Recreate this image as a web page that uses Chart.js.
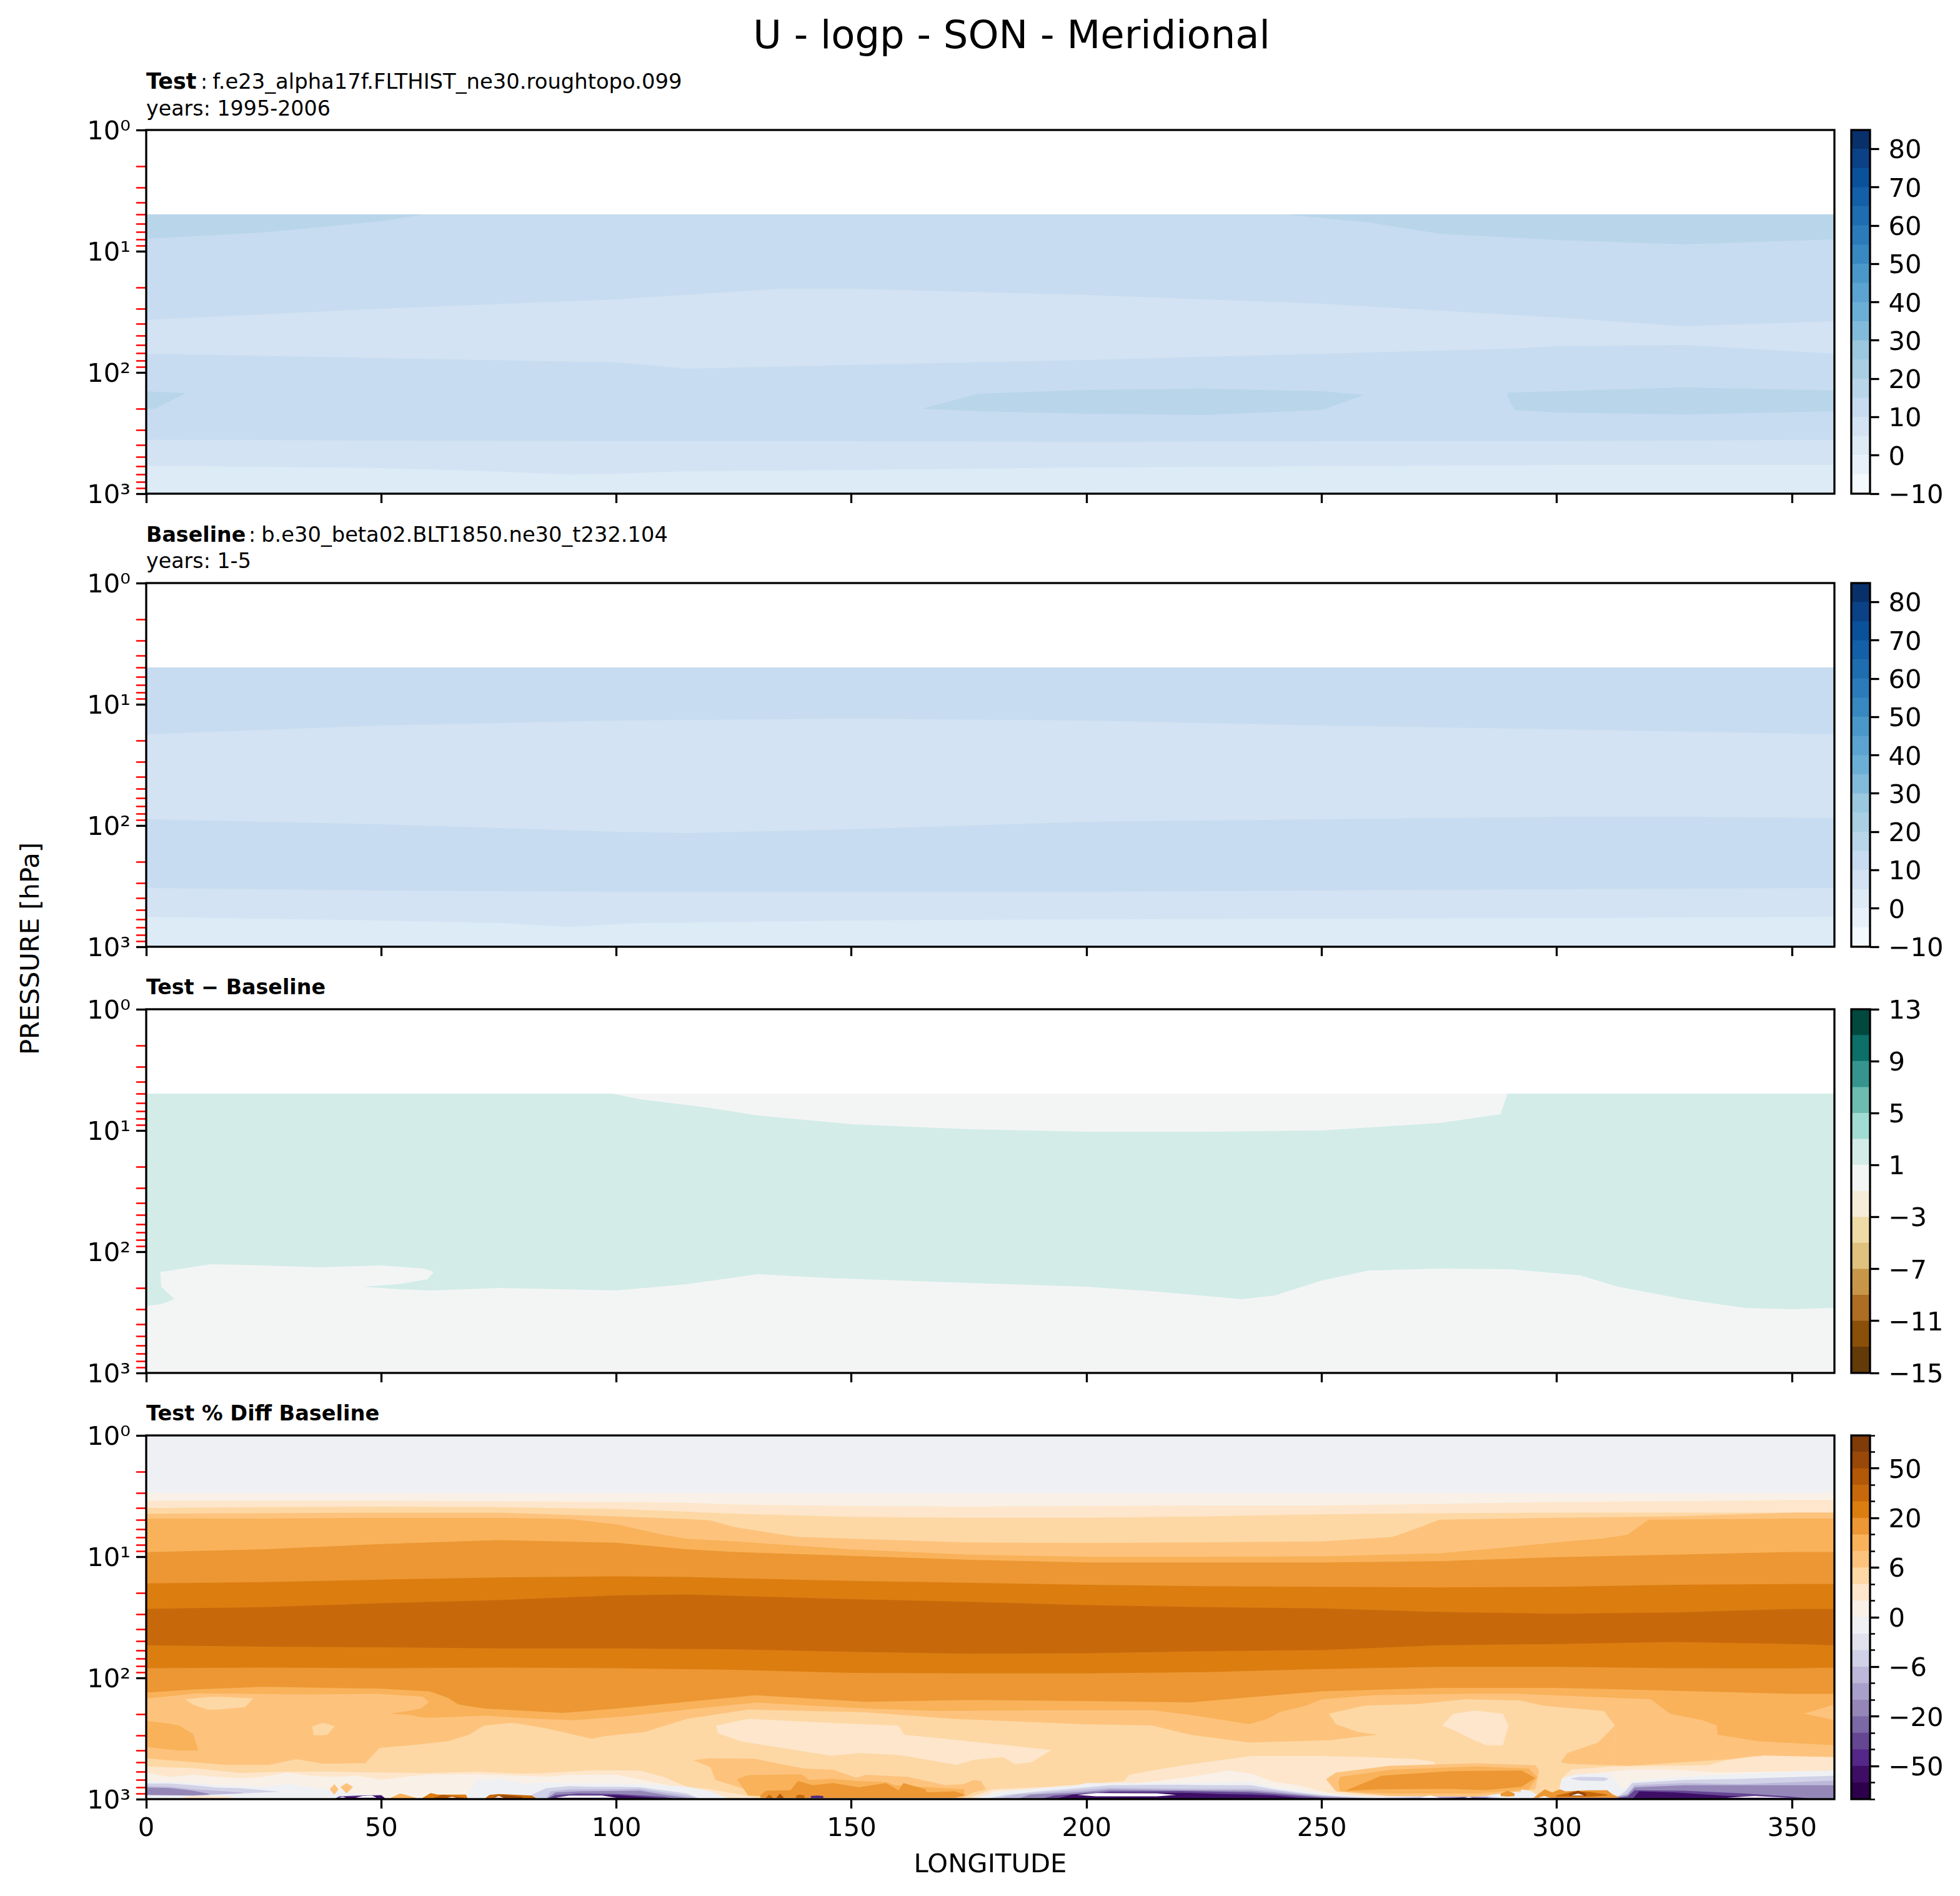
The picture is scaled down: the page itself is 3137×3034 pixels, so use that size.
<!DOCTYPE html>
<html>
<head>
<meta charset="utf-8">
<title>U - logp - SON - Meridional</title>
<script src="https://cdn.jsdelivr.net/npm/chart.js@4"></script>
<style>
    html, body { margin: 0; background: #fff; }
    body { position: relative; width: 3137px; height: 3034px; overflow: hidden; font-family: "DejaVu Sans"; color: #000; }
    canvas { position: absolute; left: 0; }
    .txt { position: absolute; white-space: nowrap; line-height: 40px; font-size: 33.3px; left: 234px; }
    .txt b.head { display: inline-block; }
</style>
</head>
<body>
<div class="txt" style="left:1619px;top:26px;line-height:60px;font-size:62.4px;transform:translateX(-50%)">U - logp - SON - Meridional</div>
<div class="txt" style="top:110px"><b class="head" style="width:87px;font-size:35px">Test</b>:<span style="margin-left:8px;font-size:33.8px">f.e23_alpha17f.FLTHIST_ne30.roughtopo.099</span></div>
<div class="txt" style="top:154px">years: 1995-2006</div>
<div class="txt" style="top:836px"><b class="head" style="width:164px">Baseline</b>:<span style="margin-left:9px;font-size:33.7px">b.e30_beta02.BLT1850.ne30_t232.104</span></div>
<div class="txt" style="top:878px">years: 1-5</div>
<div class="txt" style="top:1560px"><b>Test − Baseline</b></div>
<div class="txt" style="top:2242px;font-size:33.6px"><b>Test % Diff Baseline</b></div>
<div class="txt" style="left:48px;top:1518px;font-size:41.7px;transform:translate(-50%,-50%) rotate(-90deg)">PRESSURE [hPa]</div>

<script>
// contour lines are kept as longitude + log10(pressure in hPa)
const xTickValues = [0, 50, 100, 150, 200, 250, 300, 350];
const yTickValues = [1, 2, 3, 4, 5, 6, 7, 8, 9, 10, 20, 30, 40, 50, 60, 70, 80, 90, 100, 200, 300, 400, 500, 600, 700, 800, 900, 1000];
const yDecadeLabels = {1: '10⁰', 10: '10¹', 100: '10²', 1000: '10³'};

// colorbar levels
const uLevels = [-10, -5, 0, 5, 10, 15, 20, 25, 30, 35, 40, 45, 50, 55, 60, 65, 70, 75, 80, 85];
const uTicks = [-10, 0, 10, 20, 30, 40, 50, 60, 70, 80];
const uColors = ['#f4f9fe', '#e8f1fa', '#dcebf6', '#d3e3f3', '#c7dcf0', '#b9d5e9', '#a9cfe3', '#9ac8df', '#82badb', '#6bafd7', '#5ba3d1', '#4a98c9', '#3888c1', '#2b7bba', '#1f6db1', '#1460a8', '#0a519b', '#0b4287', '#08306b'];
const diffLevels = [-15, -13, -11, -9, -7, -5, -3, -1, 1, 3, 5, 7, 9, 11, 13];
const diffTicks = [-15, -11, -7, -3, 1, 5, 9, 13];
const diffColors = ['#643a08', '#8a5009', '#ad6d22', '#c89648', '#dfc27d', '#eedba6', '#f6ecd8', '#f3f5f4', '#d3ece8', '#a1dcd2', '#6dbcb1', '#35958e', '#0c6f68', '#01493f'];
const pctLevels = [-100, -75, -50, -40, -30, -20, -15, -10, -6, -4, -2, 0, 2, 4, 6, 10, 15, 20, 30, 40, 50, 75, 100];
const pctTicks = [-50, -20, -6, 0, 6, 20, 50];
const pctColors = ['#2d004b', '#3e0e66', '#542788', '#654693', '#7b68a6', '#9487b8', '#a99fcc', '#bdb8d9', '#d1d2e7', '#e2e2ee', '#eef0f4', '#f9f1e8', '#fde6cb', '#fdd8a5', '#fdc37d', '#f9b25a', '#ec9733', '#dc7d10', '#c7690b', '#b35806', '#994808', '#7f3b08'];

// panel 1: Test
const testTopLon = [0, 359];
const testTopExp = [0.696, 0.696];
const testALon = [0, 25, 50, 59, 242, 260, 275, 300, 327, 359];
const testAExp = [0.897, 0.845, 0.753, 0.696, 0.696, 0.763, 0.856, 0.907, 0.943, 0.902];
const testBLon = [0, 50, 100, 135, 150, 200, 250, 300, 327, 359];
const testBExp = [1.567, 1.474, 1.397, 1.309, 1.309, 1.361, 1.433, 1.546, 1.619, 1.577];
const testCLon = [0, 50, 100, 115, 150, 200, 250, 290, 300, 327, 359];
const testCExp = [1.845, 1.881, 1.918, 1.969, 1.938, 1.897, 1.845, 1.804, 1.784, 1.773, 1.845];
const testELon = [0, 50, 100, 150, 200, 250, 300, 359];
const testEExp = [2.554, 2.562, 2.567, 2.567, 2.572, 2.567, 2.567, 2.555];
const testFLon = [0, 25, 50, 70, 90, 100, 115, 150, 200, 250, 300, 359];
const testFExp = [2.769, 2.778, 2.789, 2.81, 2.842, 2.835, 2.814, 2.804, 2.784, 2.773, 2.763, 2.763];
const testIslands = [
    [[0, 2, 8.4], [2.155, 2.16, 2.17], [2.299, 2.299, 2.17]],
    [[165, 177, 200, 225, 250, 259], [2.299, 2.175, 2.144, 2.134, 2.155, 2.186], [2.299, 2.32, 2.34, 2.351, 2.309, 2.186]],
    [[289.5, 291, 300, 327, 359], [2.165, 2.165, 2.155, 2.124, 2.148], [2.2, 2.31, 2.33, 2.347, 2.32]],
];

// panel 2: Baseline
const baseALon = [0, 50, 100, 150, 200, 250, 300, 359];
const baseAExp = [1.247, 1.175, 1.134, 1.119, 1.134, 1.175, 1.206, 1.247];
const baseBLon = [0, 50, 100, 115, 150, 200, 250, 300, 330, 359];
const baseBExp = [1.948, 1.99, 2.052, 2.062, 2.031, 1.969, 1.948, 1.928, 1.928, 1.938];
const baseCLon = [0, 50, 100, 150, 200, 250, 300, 359];
const baseCExp = [2.515, 2.536, 2.546, 2.546, 2.546, 2.536, 2.526, 2.515];
const baseDLon = [0, 50, 75, 90, 105, 150, 200, 300, 359];
const baseDExp = [2.753, 2.784, 2.804, 2.835, 2.804, 2.784, 2.773, 2.763, 2.753];

// panel 3: Test - Baseline
const diffMainLon = [0, 3.5, 13.7, 25, 36.7, 50, 59, 61, 61.2, 75, 100, 115, 130, 145, 160, 175, 200, 215, 233, 240, 250, 260, 275, 290, 305, 313, 327, 340, 350, 359];
const diffMainExp = [2.165, 2.165, 2.103, 2.113, 2.129, 2.113, 2.139, 2.165, 2.32, 2.299, 2.32, 2.268, 2.186, 2.216, 2.237, 2.258, 2.289, 2.33, 2.392, 2.361, 2.237, 2.155, 2.139, 2.144, 2.196, 2.289, 2.392, 2.464, 2.474, 2.464];
const diffIslands = [
    [7, [99, 105, 120, 130, 150, 175, 200, 225, 250, 275, 288, 289.5], [0.696, 0.696, 0.696, 0.696, 0.696, 0.696, 0.696, 0.696, 0.696, 0.696, 0.696, 0.696], [0.696, 0.742, 0.814, 0.876, 0.948, 0.99, 1.01, 1.01, 1.0, 0.938, 0.866, 0.696]],
    [8, [0, 3, 3.2, 6], [2.144, 2.165, 2.289, 2.392], [2.448, 2.433, 2.433, 2.392]],
    [8, [46, 53.6, 59.8, 61.2], [2.289, 2.268, 2.227, 2.165], [2.289, 2.309, 2.32, 2.32]],
];

// panel 4: Test % Diff Baseline, top to bottom
const pctULon = [0, 25, 50, 75, 100, 115, 125, 150, 175, 200, 225, 250, 275, 300, 325, 350, 359];
const pctMLon = [0, 25, 50, 75, 100, 125, 150, 175, 200, 225, 250, 275, 300, 325, 350, 359];
const pct01Lon = [0, 359];
const pct00Exp = [0, 0];
const pct01Exp = [0.473, 0.473];
const pct02Lon = [0, 50, 100, 115, 125, 150, 175, 200, 225, 250, 275, 300, 325, 350, 359];
const pct02Exp = [0.538, 0.538, 0.549, 0.555, 0.57, 0.581, 0.586, 0.581, 0.577, 0.577, 0.564, 0.549, 0.542, 0.534, 0.534];
const pct03Exp = [0.599, 0.592, 0.588, 0.592, 0.607, 0.629, 0.646, 0.672, 0.679, 0.679, 0.668, 0.651, 0.642, 0.636, 0.636, 0.636, 0.636];
const pct04Lon = [0, 50, 75, 100, 115, 120, 125, 138, 150, 175, 200, 225, 250, 265, 271, 275, 300, 325, 350, 359];
const pct04Exp = [0.646, 0.636, 0.636, 0.668, 0.69, 0.701, 0.755, 0.835, 0.852, 0.883, 0.887, 0.881, 0.874, 0.837, 0.755, 0.694, 0.679, 0.668, 0.636, 0.636];
const pct05Lon = [0, 25, 50, 75, 90, 100, 110, 115, 125, 150, 175, 200, 225, 250, 275, 288, 300, 310, 315, 319.5, 350, 359];
const pct05Exp = [0.685, 0.685, 0.679, 0.679, 0.69, 0.733, 0.82, 0.852, 0.874, 0.939, 0.983, 1.0, 1.0, 0.998, 0.972, 0.928, 0.881, 0.848, 0.82, 0.694, 0.685, 0.685];
const pct06Exp = [0.963, 0.939, 0.896, 0.863, 0.885, 0.939, 0.961, 0.993, 1.026, 1.048, 1.048, 1.048, 1.037, 1.004, 0.983, 0.961, 0.961];
const pct07Exp = [1.221, 1.21, 1.189, 1.171, 1.163, 1.167, 1.178, 1.2, 1.215, 1.232, 1.243, 1.249, 1.254, 1.249, 1.232, 1.226, 1.226];
const pct08Exp = [1.43, 1.416, 1.384, 1.358, 1.319, 1.312, 1.323, 1.351, 1.373, 1.399, 1.416, 1.427, 1.456, 1.471, 1.46, 1.432, 1.432];
const pct09Exp = [1.731, 1.742, 1.748, 1.757, 1.757, 1.764, 1.785, 1.8, 1.796, 1.779, 1.77, 1.731, 1.72, 1.703, 1.72, 1.731];
const pct10Exp = [1.92, 1.915, 1.92, 1.915, 1.92, 1.933, 1.959, 1.963, 1.963, 1.952, 1.926, 1.909, 1.909, 1.92, 1.922, 1.915];
const pct11Lon = [0, 10, 25, 50, 60.3, 64.2, 66.4, 71.8, 88.6, 100, 115, 129.6, 153, 175, 200, 222, 235, 250, 275, 300, 320, 350, 359];
const pct11Exp = [2.121, 2.095, 2.074, 2.089, 2.111, 2.165, 2.219, 2.252, 2.289, 2.252, 2.197, 2.143, 2.197, 2.182, 2.191, 2.202, 2.158, 2.111, 2.082, 2.082, 2.1, 2.132, 2.132];
const pct12Lon = [0, 10.8, 33.6, 49, 58.8, 60, 60.2, 72, 83, 91, 102, 115, 129.6, 153, 168, 191, 214, 222, 234.6, 238.5, 241, 246.6, 250, 261, 280.5, 291.7, 320, 324, 331, 334, 334.1, 343, 359];
const pct12Exp = [2.171, 2.128, 2.137, 2.132, 2.154, 2.197, 2.328, 2.312, 2.338, 2.349, 2.317, 2.262, 2.204, 2.252, 2.273, 2.267, 2.267, 2.306, 2.382, 2.338, 2.284, 2.23, 2.176, 2.143, 2.132, 2.132, 2.176, 2.295, 2.349, 2.393, 2.469, 2.523, 2.555];
const pct13Lon = [0, 17, 26, 32, 37.5, 46.6, 49.6, 56.5, 64, 68.7, 71.8, 78, 84.7, 94.7, 97.7, 106, 115, 128, 153, 171.5, 199, 214, 222, 234.6, 250, 251.4, 251.5, 259, 270.6, 280.5, 292.3, 297, 310, 312.3, 312.4, 315, 337, 342, 359];
const pct13Exp = [2.664, 2.718, 2.718, 2.67, 2.707, 2.703, 2.577, 2.555, 2.523, 2.469, 2.393, 2.371, 2.414, 2.501, 2.479, 2.447, 2.338, 2.262, 2.284, 2.338, 2.382, 2.393, 2.469, 2.534, 2.516, 2.516, 2.295, 2.23, 2.215, 2.176, 2.187, 2.23, 2.273, 2.393, 2.72, 2.725, 2.67, 2.644, 2.653];
const pct14Lon = [0, 5, 10, 15, 20, 25, 30, 40, 50, 60, 70, 80, 85, 90, 95, 105, 110, 115, 120, 125, 130, 175, 180, 190, 200, 208, 209, 215, 222, 230, 235, 250, 260, 270, 274, 274.5, 300, 301, 303, 312, 332, 336, 344, 359];
const pct14Exp = [2.73, 2.738, 2.744, 2.764, 2.785, 2.778, 2.773, 2.773, 2.781, 2.785, 2.773, 2.79, 2.785, 2.773, 2.761, 2.764, 2.816, 2.898, 2.919, 2.953, 2.988, 2.988, 2.919, 2.902, 2.876, 2.85, 2.799, 2.756, 2.713, 2.67, 2.644, 2.644, 2.653, 2.67, 2.692, 3, 3, 2.833, 2.756, 2.73, 2.721, 2.678, 2.641, 2.653];
const pct15Lon = [0, 5, 10, 15, 20, 25, 30, 35, 40, 45, 50, 55, 60, 70, 80, 85, 90, 100, 110, 115, 120, 125, 178, 180, 190, 200, 208, 215, 222, 230, 235, 240, 245, 250, 255, 262, 265, 300, 302, 305, 315, 325, 335, 345, 359];
const pct15Exp = [2.781, 2.816, 2.799, 2.816, 2.829, 2.816, 2.781, 2.807, 2.816, 2.807, 2.842, 2.816, 2.799, 2.795, 2.807, 2.816, 2.799, 2.799, 2.876, 2.936, 2.97, 3, 3, 2.936, 2.915, 2.885, 2.876, 2.85, 2.816, 2.764, 2.79, 2.859, 2.885, 2.936, 2.97, 2.988, 3, 3, 2.867, 2.799, 2.756, 2.756, 2.781, 2.773, 2.764];
const pct16Lon = [0, 5, 10, 15, 20, 25, 30, 35, 40, 45, 50, 52, 66, 68, 70, 75, 80, 85, 90, 100, 110, 115, 120, 124, 176, 178, 183, 190, 198, 200, 220, 235, 240, 245, 250, 260, 285, 288, 292, 295, 298, 300, 301, 304, 311, 312.5, 314, 315, 316, 325, 340, 350, 359];
const pct16Exp = [2.85, 2.854, 2.867, 2.885, 2.893, 2.898, 2.876, 2.902, 2.927, 2.953, 2.988, 3, 3, 2.988, 2.847, 2.833, 2.871, 2.864, 2.867, 2.872, 2.885, 2.898, 2.936, 3, 3, 2.97, 2.933, 2.91, 2.885, 2.867, 2.867, 2.859, 2.902, 2.927, 2.953, 2.979, 2.979, 2.936, 2.945, 2.97, 2.988, 3, 2.833, 2.795, 2.785, 2.85, 2.919, 2.893, 2.85, 2.819, 2.79, 2.773, 2.764];
const pct17Lon = [0, 5, 10, 15, 20, 25, 30, 35, 80, 85, 90, 95, 100, 105, 110, 115, 118, 178, 183, 190, 198, 205, 220, 225, 235, 240, 245, 250, 255, 262, 270, 280, 285, 288, 290, 294, 296, 300, 305, 313, 314.5, 316, 327, 339, 359];
const pct17Exp = [2.871, 2.871, 2.885, 2.905, 2.91, 2.927, 2.945, 3, 3, 2.91, 2.893, 2.898, 2.898, 2.902, 2.927, 2.953, 3, 3, 2.962, 2.936, 2.91, 2.885, 2.881, 2.885, 2.885, 2.919, 2.945, 2.967, 2.979, 2.988, 2.977, 2.97, 2.974, 2.988, 3, 3, 2.979, 2.967, 2.974, 2.974, 2.936, 2.867, 2.842, 2.833, 2.807];
const pct18Lon = [0, 5, 10, 15, 20, 25, 85, 86, 90, 100, 105, 110, 115, 118, 180, 185, 190, 198, 205, 220, 235, 240, 245, 250, 258, 262, 268, 275, 285, 288, 294, 296, 300, 305, 313, 315, 316.5, 327, 339, 359];
const pct18Exp = [2.893, 2.898, 2.919, 2.931, 2.945, 3, 3, 2.936, 2.919, 2.919, 2.915, 2.945, 2.97, 3, 3, 2.962, 2.948, 2.927, 2.907, 2.915, 2.915, 2.931, 2.953, 2.97, 2.988, 3, 2.988, 2.979, 2.979, 3, 3, 2.988, 2.974, 2.979, 2.979, 2.953, 2.885, 2.867, 2.876, 2.847];
const pct19Lon = [0, 5, 10, 13, 15, 85, 87, 92, 105, 110, 115, 118, 185, 188, 198, 205, 220, 235, 240, 250, 262, 270, 280, 285, 287, 296, 298, 300, 313, 315, 316.5, 327, 345, 359];
const pct19Exp = [2.905, 2.909, 2.931, 2.953, 3, 3, 2.945, 2.936, 2.931, 2.962, 2.988, 3, 3, 2.962, 2.945, 2.922, 2.927, 2.931, 2.945, 2.979, 3, 2.993, 2.981, 2.984, 3, 3, 2.988, 2.981, 2.981, 2.967, 2.902, 2.885, 2.885, 2.885];
const pct20Lon = [0, 40, 41, 45, 50, 51, 85, 87, 92, 100, 110, 113, 190, 193, 198, 205, 220, 235, 240, 250, 255, 275, 280, 285, 286, 298, 300, 305, 312, 315, 316.5, 327, 340, 350, 355, 359];
const pct20Exp = [3, 3, 2.977, 2.97, 2.967, 3, 3, 2.967, 2.953, 2.957, 2.979, 3, 3, 2.97, 2.957, 2.936, 2.933, 2.945, 2.957, 2.988, 3, 3, 2.984, 2.991, 3, 3, 2.988, 2.994, 2.994, 2.979, 2.927, 2.931, 2.953, 2.979, 3, 3];
const pct21Lon = [0, 40, 42, 47, 50, 51, 85, 90, 100, 108, 110, 193, 197, 205, 222, 228, 235, 240, 248, 275, 279, 282, 299, 301, 303, 316, 317.5, 325, 335, 345, 352, 359];
const pct21Exp = [3, 3, 2.981, 2.974, 2.97, 3, 3, 2.97, 2.967, 2.988, 3, 3, 2.962, 2.945, 2.948, 2.957, 2.962, 2.97, 3, 3, 2.991, 3, 3, 2.993, 3, 3, 2.936, 2.945, 2.97, 2.988, 3, 3];

// closed patches: band index, longitudes, upper edge, lower edge
const pctFolds = [
    [15, [51.9, 56, 58.4, 60.2], [2.295, 2.27, 2.252, 2.197], [2.295, 2.306, 2.323, 2.328]],
    [15, [0, 4, 7, 10, 11.1], [2.356, 2.371, 2.393, 2.464, 2.599], [2.57, 2.587, 2.599, 2.599, 2.599]],
    [13, [8.3, 10, 13, 15, 21, 22.8], [2.176, 2.17, 2.158, 2.154, 2.165, 2.169], [2.176, 2.221, 2.262, 2.262, 2.241, 2.169]],
    [13, [35.3, 35.6, 37.4, 38.5, 40.1], [2.399, 2.397, 2.371, 2.38, 2.399], [2.399, 2.473, 2.473, 2.469, 2.399]],
    [14, [352.6, 359], [2.295, 2.219], [2.295, 2.349]],
    [12, [121.2, 121.6, 126.5, 128, 145.6, 151.7, 160, 161.2, 172.3, 176, 182.2, 184.8, 188.3, 192.5], [2.393, 2.39, 2.349, 2.338, 2.371, 2.382, 2.393, 2.469, 2.512, 2.527, 2.551, 2.562, 2.577, 2.594], [2.393, 2.458, 2.523, 2.534, 2.642, 2.62, 2.636, 2.642, 2.718, 2.675, 2.653, 2.711, 2.696, 2.594]],
    [12, [275.6, 278, 282.5, 285, 288.5, 289.7], [2.393, 2.295, 2.269, 2.28, 2.295, 2.393], [2.393, 2.43, 2.516, 2.555, 2.555, 2.393]],
    [14, [251.5, 253, 257.8, 262], [2.295, 2.382, 2.447, 2.469], [2.516, 2.508, 2.486, 2.469]],
    [14, [300.8, 302.2, 308.7, 312.3, 312.4, 315], [2.696, 2.62, 2.534, 2.393, 2.72, 2.725], [2.696, 2.707, 2.718, 2.72, 2.72, 2.725]],
];
const pctNearSurface = [
    [14, [116.5, 120, 121, 129.5, 134, 140, 146, 151, 153, 162, 170, 173.7, 176, 177.5, 178.6], [2.678, 2.661, 2.664, 2.666, 2.704, 2.747, 2.756, 2.824, 2.799, 2.816, 2.885, 2.876, 2.842, 2.85, 2.919], [2.682, 2.738, 2.842, 2.945, 2.988, 2.988, 2.988, 2.988, 2.988, 2.988, 2.988, 2.988, 2.945, 2.931, 2.919]],
    [15, [125.7, 128, 139.4, 141, 146, 151, 157.4, 159.2, 174], [2.833, 2.802, 2.795, 2.842, 2.833, 2.85, 2.859, 2.885, 2.919], [2.842, 2.97, 2.988, 2.988, 2.988, 2.988, 2.988, 2.988, 2.962]],
    [16, [130.6, 131.8, 137, 138.6, 141.7, 146, 151.6, 157.3, 160, 161, 165.7, 166, 172, 174], [2.97, 2.931, 2.927, 2.85, 2.885, 2.867, 2.902, 2.867, 2.927, 2.867, 2.919, 2.945, 2.936, 2.962], [2.988, 2.988, 2.988, 2.988, 2.988, 2.988, 2.988, 2.988, 2.988, 2.988, 2.988, 2.988, 2.988, 2.97]],
    [18, [131.8, 132.5, 133.3], [2.988, 2.962, 2.988], [2.99, 2.99, 2.99]],
    [19, [134, 134.8, 135.6], [2.988, 2.953, 2.988], [2.99, 2.99, 2.99]],
    [18, [138.2, 139, 140], [2.97, 2.962, 2.97], [2.99, 2.99, 2.99]],
    [2, [141.3, 142.6, 144], [2.974, 2.97, 2.974], [2.99, 2.99, 2.99]],
    [14, [39, 40, 40.9], [2.919, 2.876, 2.919], [2.919, 2.962, 2.919]],
    [14, [41.3, 42.6, 44], [2.9, 2.867, 2.9], [2.9, 2.953, 2.9]],
    [10, [0, 10, 20, 30, 36], [2.967, 2.97, 2.953, 2.936, 2.945], [3, 3, 3, 3, 3]],
    [12, [8, 12, 18], [2.98, 2.972, 2.98], [3, 3, 3]],
    [15, [52, 54, 55, 57.3], [2.988, 2.953, 2.962, 2.988], [3, 3, 3, 3]],
    [17, [58.8, 60.5, 62, 68, 68.3], [2.988, 2.95, 2.962, 2.962, 2.988], [3, 3, 3, 3, 3]],
    [19, [61.1, 63, 67.6], [2.988, 2.964, 2.988], [3, 3, 3]],
    [18, [72.2, 73, 75, 82, 82.8], [2.988, 2.965, 2.957, 2.97, 2.988], [3, 3, 3, 3, 3]],
    [20, [74, 76, 80], [2.979, 2.967, 2.981], [3, 3, 3]],
    [14, [251, 253, 264.3, 282.9, 295.4, 296.2], [2.833, 2.781, 2.726, 2.704, 2.721, 2.764], [2.842, 2.936, 2.974, 2.979, 2.919, 2.764]],
    [15, [253.5, 253.9, 265, 283, 294, 295.8], [2.859, 2.816, 2.756, 2.73, 2.747, 2.816], [2.864, 2.936, 2.953, 2.953, 2.919, 2.819]],
    [16, [255, 262.7, 277.2, 284.5, 292.5, 295.4], [2.931, 2.807, 2.769, 2.767, 2.764, 2.826], [2.931, 2.919, 2.915, 2.927, 2.898, 2.826]],
    [16, [288, 289.5, 291], [2.953, 2.931, 2.953], [2.974, 2.979, 2.974]],
    [10, [291.8, 292.5, 294.5, 296], [2.979, 2.919, 2.936, 2.97], [2.988, 2.988, 2.988, 2.988]],
    [16, [295, 297.4, 299, 300.6, 301.8, 307, 310.7, 311.9, 313], [2.988, 2.919, 2.945, 2.919, 2.936, 2.927, 2.927, 2.962, 2.979], [2.988, 2.988, 2.988, 2.988, 2.988, 2.988, 2.988, 2.988, 2.988]],
    [18, [299.8, 303.8, 307, 310.7], [2.97, 2.936, 2.941, 2.962], [2.979, 2.981, 2.981, 2.97]],
    [20, [302.6, 304.5, 306.2], [2.953, 2.931, 2.953], [2.974, 2.974, 2.974]],
    [8, [303, 305, 310, 311], [2.828, 2.816, 2.819, 2.833], [2.833, 2.847, 2.85, 2.833]],
];
// missing data, left white
const pctHoles = [
    [[41, 41.8, 42.5], [2.988, 2.979, 2.988], [2.988, 2.988, 2.988]],
    [[44.5, 46, 48, 49], [2.988, 2.974, 2.97, 2.988], [2.988, 2.988, 2.988, 2.988]],
    [[64.1, 65, 66], [2.988, 2.979, 2.988], [2.988, 2.988, 2.988]],
    [[74, 75, 76], [2.988, 2.974, 2.988], [2.988, 2.988, 2.988]],
    [[87, 90, 97, 100], [2.988, 2.97, 2.97, 2.988], [2.988, 2.988, 2.988, 2.988]],
    [[198, 202, 215, 219], [2.965, 2.95, 2.952, 2.965], [2.965, 2.977, 2.977, 2.965]],
    [[271, 273, 275], [2.988, 2.97, 2.988], [2.988, 2.988, 2.988]],
    [[280.5, 281.2, 282], [2.988, 2.979, 2.988], [2.988, 2.988, 2.988]],
    [[296, 297.3, 298.5], [2.988, 2.974, 2.988], [2.988, 2.988, 2.988]],
    [[303, 304.5, 305.8], [2.97, 2.953, 2.97], [2.97, 2.97, 2.97]],
    [[336, 342, 349], [2.988, 2.974, 2.988], [2.988, 2.988, 2.988]],
];

Chart.defaults.font.family = '"DejaVu Sans"';
Chart.defaults.color = '#000';

const PANEL_H = 582;
const PAD_TOP = 60;
const LINE_W = 3.3;
const LABEL_DROP = 4;

const framePlugin = {
    id: 'frame',
    afterDraw(chart) {
        const a = chart.chartArea;
        const ctx = chart.ctx;
        ctx.save();
        ctx.strokeStyle = '#000';
        ctx.lineWidth = LINE_W;
        ctx.strokeRect(a.left, a.top, a.right - a.left, a.bottom - a.top);
        ctx.restore();
    }
};

function pts(lon, exp) {
    return lon.map((x, i) => ({x: x, y: Math.pow(10, exp[i])}));
}

function addCanvas(left, top, width, height) {
    const c = document.createElement('canvas');
    c.width = width;
    c.height = height;
    c.style.left = left + 'px';
    c.style.top = top + 'px';
    c.style.width = width + 'px';
    c.style.height = height + 'px';
    document.body.appendChild(c);
    return c;
}

// bands are painted top down, every band runs from its contour to the bottom axis
function drawPanel(top, bands, patches, lastPanel) {
    const datasets = [];
    const line = {borderWidth: 0, pointRadius: 0, tension: 0};
    bands.forEach(b => {
        datasets.push({...line, data: pts(b[0], b[1]), backgroundColor: b[2], fill: 'start'});
    });
    patches.forEach(p => {
        datasets.push({...line, data: pts(p[1], p[2]), backgroundColor: p[0], fill: '+1'});
        datasets.push({...line, data: pts(p[1], p[3]), fill: false});
    });
    datasets.forEach((d, i) => { d.order = datasets.length - i; });

    const xHeight = lastPanel ? 135 : 60;
    new Chart(addCanvas(0, top - PAD_TOP, 2960, PAD_TOP + PANEL_H + xHeight), {
        type: 'line',
        data: {datasets: datasets},
        plugins: [framePlugin],
        options: {
            responsive: false,
            devicePixelRatio: 1,
            animation: false,
            events: [],
            layout: {padding: {top: PAD_TOP, right: 24, bottom: 0, left: 0}},
            plugins: {legend: {display: false}, tooltip: {enabled: false}},
            scales: {
                x: {
                    type: 'linear',
                    min: 0,
                    max: 359,
                    afterBuildTicks: s => { s.ticks = xTickValues.map(v => ({value: v})); },
                    afterFit: s => { s.height = xHeight; },
                    grid: {drawOnChartArea: false, tickLength: 15, tickWidth: LINE_W, tickColor: '#000'},
                    border: {display: false},
                    ticks: {display: lastPanel, maxRotation: 0, autoSkip: false, padding: 8, font: {size: 41.7}},
                    title: {display: lastPanel, text: 'LONGITUDE', font: {size: 41.7}, padding: {top: 0, bottom: 4}}
                },
                y: {
                    type: 'logarithmic',
                    reverse: true,
                    min: 1,
                    max: 1000,
                    afterBuildTicks: s => { s.ticks = yTickValues.map(v => ({value: v})); },
                    afterFit: s => { s.width = 234; },
                    grid: {
                        drawOnChartArea: false,
                        tickLength: 16,
                        tickWidth: ctx => (yDecadeLabels[ctx.tick.value] ? LINE_W : 2.5),
                        tickColor: ctx => (yDecadeLabels[ctx.tick.value] ? '#000' : '#ff0000')
                    },
                    border: {display: false},
                    ticks: {
                        autoSkip: false,
                        padding: 9,
                        labelOffset: LABEL_DROP,
                        font: {size: 41.7},
                        callback: v => yDecadeLabels[v] || ''
                    }
                }
            }
        }
    });
}

// one floating bar per level, on a y axis that holds the ticks
function drawColorbar(top, bounds, colors, tickVals, tickText, minorVals) {
    const datasets = colors.map((c, i) => ({
        data: [[bounds[i], bounds[i + 1]]],
        backgroundColor: c,
        borderWidth: 0,
        barPercentage: 1,
        categoryPercentage: 1
    }));
    const scales = {
        x: {display: false, stacked: true},
        y: {
            type: 'linear',
            position: 'right',
            min: bounds[0],
            max: bounds[bounds.length - 1],
            afterBuildTicks: s => { s.ticks = tickVals.map(v => ({value: v})); },
            afterFit: s => { s.width = 144; },
            grid: {drawOnChartArea: false, tickLength: 14.6, tickWidth: LINE_W, tickColor: '#000'},
            border: {display: false},
            ticks: {autoSkip: false, padding: 15, labelOffset: LABEL_DROP, font: {size: 41.7}, callback: v => tickText(v)}
        }
    };
    if (minorVals) {
        scales.yMinor = {
            type: 'linear',
            position: 'right',
            weight: -1,
            min: bounds[0],
            max: bounds[bounds.length - 1],
            afterBuildTicks: s => { s.ticks = minorVals.map(v => ({value: v})); },
            afterFit: s => { s.width = 0; },
            grid: {drawOnChartArea: false, tickLength: 8, tickWidth: 2.5, tickColor: '#000'},
            border: {display: false},
            ticks: {display: false}
        };
    }
    new Chart(addCanvas(2950, top - PAD_TOP, 187, PAD_TOP * 2 + PANEL_H), {
        type: 'bar',
        data: {labels: ['levels'], datasets: datasets},
        plugins: [framePlugin],
        options: {
            responsive: false,
            devicePixelRatio: 1,
            animation: false,
            events: [],
            layout: {padding: {top: PAD_TOP, right: 0, bottom: PAD_TOP, left: 13}},
            plugins: {legend: {display: false}, tooltip: {enabled: false}},
            scales: scales
        }
    });
}

const minusText = v => String(v).replace('-', '−');

// panel 1
const testIsleColor = uColors[5];
drawPanel(208, [
    [testTopLon, testTopExp, uColors[5]],
    [testALon, testAExp, uColors[4]],
    [testBLon, testBExp, uColors[3]],
    [testCLon, testCExp, uColors[4]],
    [testELon, testEExp, uColors[3]],
    [testFLon, testFExp, uColors[2]]
], testIslands.map(p => [testIsleColor, p[0], p[1], p[2]]), false);
drawColorbar(208, uLevels, uColors, uTicks, minusText);

// panel 2
drawPanel(933, [
    [testTopLon, testTopExp, uColors[4]],
    [baseALon, baseAExp, uColors[3]],
    [baseBLon, baseBExp, uColors[4]],
    [baseCLon, baseCExp, uColors[3]],
    [baseDLon, baseDExp, uColors[2]]
], [], false);
drawColorbar(933, uLevels, uColors, uTicks, minusText);

// panel 3
drawPanel(1615, [
    [testTopLon, testTopExp, diffColors[8]],
    [diffMainLon, diffMainExp, diffColors[7]]
], diffIslands.map(p => [diffColors[p[0]], p[1], p[2], p[3]]), false);
drawColorbar(1615, diffLevels, diffColors, diffTicks, minusText);

// panel 4
const pctBands = [
    [pct01Lon, pct00Exp, 10], [pct01Lon, pct01Exp, 11], [pct02Lon, pct02Exp, 12], [pctULon, pct03Exp, 13],
    [pct04Lon, pct04Exp, 14], [pct05Lon, pct05Exp, 15], [pctULon, pct06Exp, 16], [pctULon, pct07Exp, 17],
    [pctULon, pct08Exp, 18], [pctMLon, pct09Exp, 17], [pctMLon, pct10Exp, 16], [pct11Lon, pct11Exp, 15],
    [pct12Lon, pct12Exp, 14], [pct13Lon, pct13Exp, 13], [pct14Lon, pct14Exp, 12], [pct15Lon, pct15Exp, 11],
    [pct16Lon, pct16Exp, 10], [pct17Lon, pct17Exp, 8], [pct18Lon, pct18Exp, 7], [pct19Lon, pct19Exp, 5],
    [pct20Lon, pct20Exp, 3], [pct21Lon, pct21Exp, 1]
];
const pctPatches = pctFolds.concat(pctNearSurface).map(p => [pctColors[p[0]], p[1], p[2], p[3]])
    .concat(pctHoles.map(p => ['#ffffff', p[0], p[1], p[2]]));
drawPanel(2297, pctBands.map(b => [b[0], b[1], pctColors[b[2]]]), pctPatches, true);

// the percent colorbar has evenly spaced levels, so it runs on the level index
const pctIndex = pctLevels.map((v, i) => i);
drawColorbar(2297, pctIndex, pctColors, pctTicks.map(v => pctLevels.indexOf(v)), i => minusText(pctLevels[i]), pctIndex);
</script>
</body>
</html>
